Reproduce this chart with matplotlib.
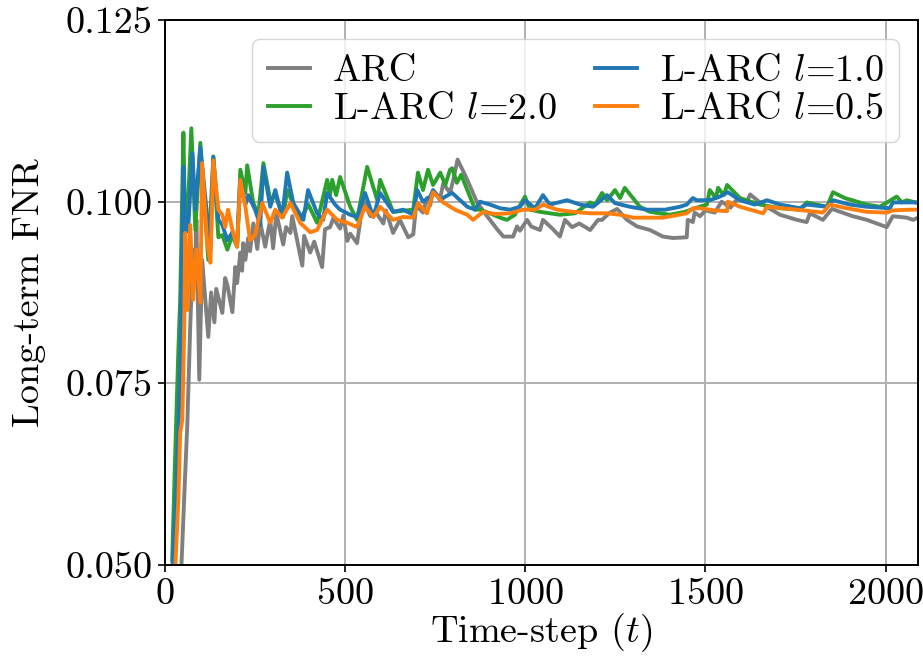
import numpy as np
import matplotlib as mpl
mpl.use('Agg')
import matplotlib.pyplot as plt
from matplotlib.ticker import FormatStrFormatter

### DATA --------------------------------------------------------------------------
arc_t = [45, 53, 62, 70, 78, 84, 87, 95, 103, 120, 128, 137, 142, 159, 167, 173, 187,
         195, 200, 209, 214, 217, 223, 231, 236, 245, 256, 264, 278, 292, 300, 309,
         328, 336, 348, 353, 381, 386, 403, 414, 436, 444, 458, 467, 486, 495, 506,
         514, 533, 550, 570, 583, 606, 613, 633, 652, 675, 689, 697, 716, 727, 736,
         744, 764, 772, 791, 800, 812, 839, 866, 894, 922, 939, 966, 977, 985, 1005,
         1016, 1041, 1049, 1075, 1096, 1110, 1130, 1150, 1180, 1202, 1213, 1235, 1255,
         1282, 1310, 1346, 1382, 1410, 1448, 1451, 1465, 1470, 1485, 1500, 1526, 1545,
         1570, 1590, 1615, 1624, 1651, 1680, 1707, 1754, 1781, 1790, 1826, 1851, 1880,
         1909, 1948, 2003, 2020, 2059, 2076, 2090]
arc_v = [0.0493, 0.0590, 0.0696, 0.0830, 0.0934, 0.0893, 0.0975, 0.0755, 0.0920,
         0.0814, 0.0875, 0.0834, 0.0880, 0.0847, 0.0895, 0.0885, 0.0848, 0.0910,
         0.0888, 0.0930, 0.0905, 0.0943, 0.0920, 0.0950, 0.0932, 0.0970, 0.0935,
         0.0972, 0.0938, 0.0975, 0.0936, 0.0984, 0.0941, 0.0965, 0.0957, 0.0980,
         0.0912, 0.0953, 0.0930, 0.0945, 0.0910, 0.0962, 0.0965, 0.0977, 0.0963,
         0.0981, 0.0946, 0.0956, 0.0943, 0.1002, 0.0980, 0.0987, 0.0970, 0.0988,
         0.0957, 0.0975, 0.0951, 0.0955, 0.0995, 0.0985, 0.1005, 0.0995, 0.1015,
         0.1005, 0.1025, 0.1012, 0.1030, 0.1058, 0.1030, 0.0999, 0.0980, 0.0962,
         0.0952, 0.0952, 0.0966, 0.0960, 0.0975, 0.0966, 0.0961, 0.0975, 0.0963,
         0.0952, 0.0975, 0.0965, 0.0970, 0.0961, 0.0975, 0.0975, 0.0985, 0.0990,
         0.0975, 0.0966, 0.0961, 0.0952, 0.0950, 0.0951, 0.0975, 0.0972, 0.0985,
         0.0980, 0.0988, 0.0985, 0.1000, 0.0992, 0.1005, 0.1000, 0.1010, 0.0999,
         0.0990, 0.0982, 0.0975, 0.0972, 0.0984, 0.0975, 0.0990, 0.0985, 0.0980,
         0.0975, 0.0965, 0.0980, 0.0978, 0.0975, 0.0978]

l20_t = [20, 23, 28, 37, 42, 51, 56, 62, 73, 84, 98, 120, 134, 148, 159, 173, 187,
         200, 209, 223, 228, 245, 259, 273, 292, 306, 328, 339, 375, 398, 422, 450,
         458, 464, 475, 486, 514, 533, 561, 589, 597, 633, 689, 702, 716, 730, 744,
         764, 778, 791, 797, 810, 822, 861, 874, 902, 930, 949, 971, 999, 1013, 1041,
         1096, 1138, 1180, 1194, 1213, 1227, 1249, 1263, 1276, 1318, 1346, 1401, 1443,
         1471, 1504, 1512, 1529, 1535, 1551, 1560, 1596, 1651, 1707, 1762, 1781, 1837,
         1854, 1887, 1948, 1984, 2031, 2045, 2059, 2090]
l20_v = [0.0507, 0.0562, 0.0649, 0.0796, 0.0865, 0.1095, 0.0961, 0.0975, 0.1101,
         0.0961, 0.1081, 0.0920, 0.1062, 0.0951, 0.0954, 0.0934, 0.0954, 0.0938,
         0.1044, 0.1012, 0.1050, 0.0998, 0.0982, 0.1053, 0.1002, 0.1009, 0.0979,
         0.1016, 0.0975, 0.0996, 0.0971, 0.1030, 0.1009, 0.1030, 0.1009, 0.1034,
         0.0993, 0.0975, 0.1048, 0.1002, 0.1030, 0.0986, 0.0989, 0.1040, 0.1016,
         0.1044, 0.1023, 0.1040, 0.1023, 0.1044, 0.1046, 0.1026, 0.1037, 0.0989,
         0.0989, 0.0984, 0.0978, 0.0975, 0.0982, 0.1007, 0.0989, 0.0986, 0.0982,
         0.0984, 0.0999, 0.0996, 0.1012, 0.1002, 0.1016, 0.1005, 0.1019, 0.0993,
         0.0986, 0.0982, 0.0986, 0.0991, 0.0996, 0.1016, 0.1005, 0.1019, 0.1009,
         0.1023, 0.1005, 0.0996, 0.0991, 0.0989, 0.0999, 0.0993, 0.1013, 0.1005,
         0.0996, 0.0993, 0.1007, 0.0999, 0.1002, 0.0998]

l10_t = [20, 28, 37, 42, 51, 56, 64, 76, 84, 98, 126, 134, 148, 159, 173, 187, 200,
         209, 223, 231, 250, 264, 273, 292, 306, 325, 339, 356, 384, 397, 422, 439,
         450, 472, 486, 514, 533, 555, 578, 597, 633, 661, 689, 700, 716, 736, 744,
         764, 778, 797, 819, 839, 861, 874, 902, 930, 958, 985, 999, 1027, 1049, 1068,
         1116, 1152, 1188, 1227, 1249, 1290, 1338, 1388, 1429, 1448, 1465, 1476, 1512,
         1540, 1562, 1596, 1637, 1671, 1707, 1762, 1781, 1837, 1854, 1901, 1948, 2012,
         2020, 2090]
l10_v = [0.0493, 0.0566, 0.0682, 0.0773, 0.1048, 0.0957, 0.0961, 0.1067, 0.0989,
         0.1075, 0.0934, 0.1062, 0.0975, 0.0968, 0.0947, 0.0958, 0.0941, 0.1030,
         0.0996, 0.1009, 0.0989, 0.0968, 0.1048, 0.0993, 0.1016, 0.0979, 0.1040,
         0.0998, 0.0975, 0.1016, 0.0984, 0.0975, 0.1012, 0.0996, 0.0989, 0.0982,
         0.0979, 0.1012, 0.0979, 0.1012, 0.0986, 0.0989, 0.0982, 0.1016, 0.1000,
         0.1007, 0.1016, 0.1002, 0.1007, 0.1012, 0.1002, 0.0993, 0.0989, 0.1000,
         0.0996, 0.0991, 0.0989, 0.0993, 0.1002, 0.0991, 0.1009, 0.0996, 0.1002,
         0.0996, 0.0993, 0.1009, 0.0998, 0.0993, 0.0989, 0.0989, 0.0993, 0.0996,
         0.1005, 0.1002, 0.1002, 0.1007, 0.1013, 0.1002, 0.0996, 0.1002, 0.0996,
         0.0991, 0.0996, 0.0993, 0.1002, 0.0996, 0.0993, 0.0991, 0.0999, 0.0999]

l05_t = [28, 37, 42, 48, 53, 56, 62, 70, 78, 87, 98, 103, 117, 126, 134, 148, 159,
         167, 175, 187, 200, 209, 223, 236, 250, 270, 292, 306, 325, 348, 375, 403,
         422, 450, 478, 506, 533, 555, 578, 597, 633, 661, 689, 702, 727, 744, 772,
         805, 839, 855, 883, 916, 958, 993, 1027, 1049, 1088, 1132, 1180, 1227, 1263,
         1299, 1338, 1382, 1415, 1448, 1465, 1485, 1526, 1560, 1562, 1596, 1660, 1671,
         1754, 1826, 1845, 1892, 1948, 2003, 2020, 2067, 2090]
l05_v = [0.0493, 0.0590, 0.0682, 0.0700, 0.0823, 0.0957, 0.0851, 0.0968, 0.0865,
         0.0934, 0.0861, 0.1053, 0.0943, 0.0916, 0.1057, 0.0989, 0.0982, 0.0965,
         0.0989, 0.0961, 0.0938, 0.1030, 0.0993, 0.0947, 0.0954, 0.0998, 0.0971,
         0.0989, 0.0978, 0.0998, 0.0971, 0.0958, 0.0961, 0.0989, 0.0975, 0.0971,
         0.0965, 0.0993, 0.0979, 0.0993, 0.0975, 0.0979, 0.0978, 0.0998, 0.0984,
         0.1013, 0.0999, 0.0989, 0.0982, 0.0975, 0.0986, 0.0983, 0.0984, 0.0989,
         0.0989, 0.0996, 0.0989, 0.0986, 0.0984, 0.0984, 0.0982, 0.0978, 0.0978,
         0.0978, 0.0981, 0.0984, 0.0991, 0.0991, 0.0988, 0.0987, 0.1000, 0.0993,
         0.0984, 0.0993, 0.0989, 0.0985, 0.0996, 0.0991, 0.0986, 0.0985, 0.0988,
         0.0989, 0.0989]

xticks = [0, 500, 1000, 1500, 2000]
yticks = [0.050, 0.075, 0.100, 0.125]
###--------------------------------------------------------------------------------

plt.rcParams['font.family'] = 'serif'
plt.rcParams['font.serif'] = ['cmr10']
plt.rcParams['mathtext.fontset'] = 'cm'
plt.rcParams['axes.formatter.use_mathtext'] = True
plt.rcParams['axes.unicode_minus'] = False
plt.rcParams['font.size'] = 27.5

fig = plt.figure(figsize = (9.23, 6.63), dpi = 100)
ax = fig.add_axes([0.1788, 0.1478, 0.8158, 0.822])

lw = 2.8
ax.plot(arc_t, arc_v, color = 'tab:gray', lw = lw, label = 'ARC')
ax.plot(l20_t, l20_v, color = 'tab:green', lw = lw, label = 'L-ARC $l$=2.0')
ax.plot(l10_t, l10_v, color = 'tab:blue', lw = lw, label = 'L-ARC $l$=1.0')
ax.plot(l05_t, l05_v, color = 'tab:orange', lw = lw, label = 'L-ARC $l$=0.5')

ax.set_xlim(0, 2090)
ax.set_ylim(0.050, 0.125)
ax.set_xticks(xticks)
ax.set_yticks(yticks)
ax.yaxis.set_major_formatter(FormatStrFormatter('%.3f'))
ax.grid(True, color = '#b0b0b0', lw = 1.4)
ax.set_axisbelow(True)
for s in ax.spines.values():
    s.set_linewidth(1.4)
ax.tick_params(width = 1.2, length = 5, pad = 4)

ax.set_xlabel('Time-step ($t$)', labelpad = 0)
ax.set_ylabel('Long-term FNR', labelpad = 14)

ax.legend(loc = 'upper right', ncol = 2, handlelength = 1.1, handletextpad = 0.6,
          columnspacing = 1.0, labelspacing = 0.12, borderpad = 0.4,
          borderaxespad = 0.5)

plt.savefig('out.png', dpi = 100)
plt.close()
